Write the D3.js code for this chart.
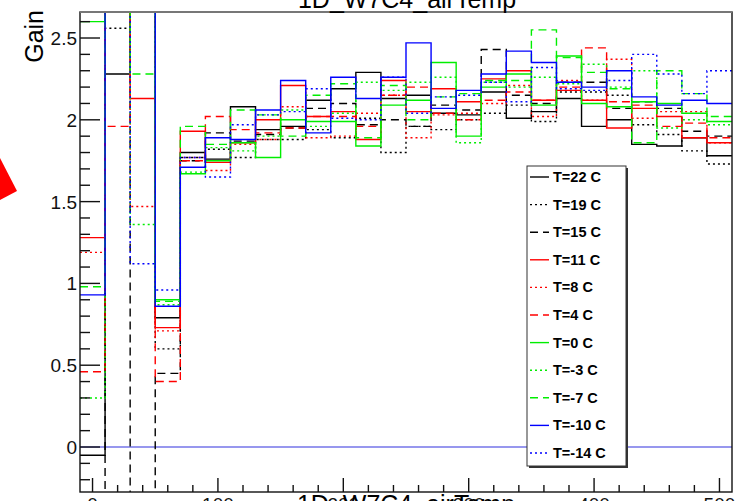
<!DOCTYPE html>
<html><head><meta charset="utf-8">
<script src="https://cdn.jsdelivr.net/npm/d3@7"></script>
<style>html,body{margin:0;padding:0;background:#fff;overflow:hidden}</style>
</head><body>
<svg id="c" width="743" height="501"></svg>
<script>
// ---- data ----
const binCenters = [0,20,40,60,80,100,120,140,160,180,200,220,240,260,280,300,320,340,360,380,400,420,440,460,480,500];
const legendLabels = ["T=22 C","T=19 C","T=15 C","T=11 C","T=8 C","T=4 C","T=0 C","T=-3 C","T=-7 C","T=-10 C","T=-14 C"];
const t22  = [-0.05,2.28,2.9,0.79,1.80,1.76,2.08,1.94,1.96,2.12,2.19,2.29,2.13,2.15,2.04,2.03,2.17,2.01,2.05,2.13,1.96,2.00,1.85,1.84,1.89,1.78];
const t19  = [2.9,2.56,2.9,0.60,1.77,1.82,1.77,1.88,1.88,1.94,1.89,2.01,1.80,1.96,1.94,2.00,2.04,2.09,1.99,2.17,2.17,2.15,1.97,1.91,1.81,1.73];
const t15  = [-0.5,3.0,-0.5,0.45,1.75,1.92,1.87,1.91,1.95,2.07,2.10,1.97,2.00,1.96,2.09,2.06,2.43,2.15,2.10,2.23,2.23,2.07,2.11,2.07,1.93,1.90];
const t11  = [1.28,2.9,2.13,0.73,1.93,1.74,1.86,2.00,2.21,2.02,2.05,1.88,2.24,2.05,2.19,2.11,2.25,2.30,2.12,2.18,2.12,1.95,2.07,2.02,1.89,1.86];
const t8   = [1.19,2.9,1.47,0.71,1.77,1.69,1.85,1.88,2.08,1.89,1.90,2.04,2.15,1.89,2.03,2.04,2.10,2.21,2.02,2.24,2.12,2.37,2.01,2.05,2.05,1.86];
const t4   = [0.46,1.96,2.9,0.40,1.75,2.02,1.94,1.92,1.95,2.02,2.02,1.96,2.15,2.20,2.04,2.00,2.12,2.17,2.12,2.20,2.44,2.11,2.09,1.96,1.98,1.89];
const t0   = [2.60,2.9,2.9,0.90,1.67,1.75,1.86,1.77,2.00,1.99,1.99,1.84,2.09,2.12,2.35,1.90,2.20,2.28,2.09,2.39,2.10,2.08,2.11,2.10,2.04,1.99];
const tm3  = [0.30,2.9,1.36,0.87,1.68,1.83,1.81,1.90,2.06,1.96,2.04,2.23,2.18,2.23,2.26,1.86,2.23,2.20,2.26,2.22,2.34,2.20,2.30,1.95,2.00,1.97];
const tm7  = [0.98,2.9,2.28,0.89,1.96,1.85,2.06,2.03,1.90,2.15,2.22,1.89,2.21,2.00,2.14,2.16,2.24,2.24,2.55,2.38,2.29,2.19,1.86,2.30,2.16,2.02];
const tm10 = [0.93,2.9,2.9,0.86,1.71,1.89,1.88,2.06,2.24,1.92,2.26,2.13,2.26,2.47,2.07,2.18,2.28,2.42,2.35,2.23,2.20,2.30,2.14,2.09,2.12,2.10];
const tm14 = [2.8,2.9,1.12,0.96,1.77,1.65,1.97,2.03,2.05,2.19,2.01,2.00,2.26,2.04,2.14,2.15,2.23,2.11,2.32,2.19,2.18,2.24,2.40,2.28,2.16,2.30];
const seriesValues = [t22,t19,t15,t11,t8,t4,t0,tm3,tm7,tm10,tm14];
const binWidth = 20;
const yTickLabels = ["0","0.5","1","1.5","2","2.5"];
const xTickLabels = ["0","100","200","300","400","500"];
const titleText = "1D_W7C4_airTemp";
const xTitleText = "1D_W7C4_airTemp";
const yTitleText = "Gain";

// ---- styles ----
const colors = ["#000","#000","#000","#ff0000","#ff0000","#ff0000","#00ee00","#00ee00","#00ee00","#0000ff","#0000ff"];
const DOT = "2,3", DASH = "8,5";
const dashes = [null,DOT,DASH,null,DOT,DASH,null,DOT,DASH,null,DOT];

const svg = d3.select("#c");
const L=80, R=732, T=12, B=492;
const x = d3.scaleLinear().domain([-10,510]).range([L,R]);
const y = d3.scaleLinear().domain([-0.275,2.659]).range([B,T]);

svg.append("defs").append("clipPath").attr("id","fr")
  .append("rect").attr("x",L).attr("y",T).attr("width",R-L).attr("height",B-T);

// zero line
svg.append("line").attr("x1",L).attr("x2",R).attr("y1",y(0)).attr("y2",y(0))
  .attr("stroke","#7474e8").attr("stroke-width",1.6);

// histograms
const line = d3.line().x(d=>x(d[0])).y(d=>y(d[1]));
const g = svg.append("g").attr("clip-path","url(#fr)");
seriesValues.forEach((vals,i)=>{
  const pts=[];
  binCenters.forEach((c,k)=>{pts.push([c-binWidth/2,vals[k]]);pts.push([c+binWidth/2,vals[k]]);});
  g.append("path").attr("d",line(pts)).attr("fill","none")
   .attr("stroke",colors[i]).attr("stroke-width",1.4)
   .attr("stroke-dasharray",dashes[i]);
});

// frame
svg.append("rect").attr("x",L).attr("y",T).attr("width",R-L).attr("height",B-T)
  .attr("fill","none").attr("stroke","#111").attr("stroke-width",1.4);
svg.append("line").attr("x1",L).attr("x2",R).attr("y1",T).attr("y2",T).attr("stroke","#777").attr("stroke-width",2);

// y ticks
const ax = svg.append("g").attr("stroke","#111").attr("stroke-width",1.4);
d3.range(-2,27).forEach(k=>{
  const v=k/10, major=(k%5===0);
  ax.append("line").attr("x1",L).attr("x2",L+(major?20:10)).attr("y1",y(v)).attr("y2",y(v));
});
d3.range(0,26).forEach(k=>{
  const v=k*20, major=(k%5===0);
  ax.append("line").attr("x1",x(v)).attr("x2",x(v)).attr("y1",B).attr("y2",B-(major?14:7));
});
const font="Liberation Sans, Arial, Helvetica, sans-serif";
yTickLabels.forEach(s=>{
  svg.append("text").attr("x",77).attr("y",y(+s)+7).attr("text-anchor","end")
   .attr("font-family",font).attr("font-size",19).attr("fill","#111").text(s);
});
xTickLabels.forEach(s=>{
  svg.append("text").attr("x",x(+s)).attr("y",511).attr("text-anchor","middle")
   .attr("font-family",font).attr("font-size",19).attr("fill","#111").text(s);
});
svg.append("text").attr("x",x(250)).attr("y",513).attr("text-anchor","middle")
  .attr("font-family",font).attr("font-size",25).attr("fill","#000").text(xTitleText);
svg.append("text").attr("x",407).attr("y",8).attr("text-anchor","middle")
  .attr("font-family",font).attr("font-size",25).attr("fill","#000").text(titleText);
svg.append("text").attr("transform","translate(43,10) rotate(-90)").attr("text-anchor","end")
  .attr("font-family",font).attr("font-size",25).attr("fill","#000").text(yTitleText);

// red arrow mark
svg.append("polygon").attr("points","0,158 17,191 0,200").attr("fill","#ff0000");

// legend
const lx=527, ly=166, lw=99, lh=300;
svg.append("rect").attr("x",lx+2).attr("y",ly+2).attr("width",lw).attr("height",lh).attr("fill","#333");
svg.append("rect").attr("x",lx).attr("y",ly).attr("width",lw).attr("height",lh).attr("fill","#fff")
  .attr("stroke","#333").attr("stroke-width",1);
legendLabels.forEach((s,i)=>{
  const cy = 177 + i*27.6;
  svg.append("line").attr("x1",530).attr("x2",549).attr("y1",cy).attr("y2",cy)
    .attr("stroke",colors[i]).attr("stroke-width",1.4).attr("stroke-dasharray",dashes[i]);
  svg.append("text").attr("x",553).attr("y",cy+5).attr("font-family",font).attr("font-weight","bold")
    .attr("font-size",14.5).attr("fill","#000").text(s);
});
</script>
</body></html>
